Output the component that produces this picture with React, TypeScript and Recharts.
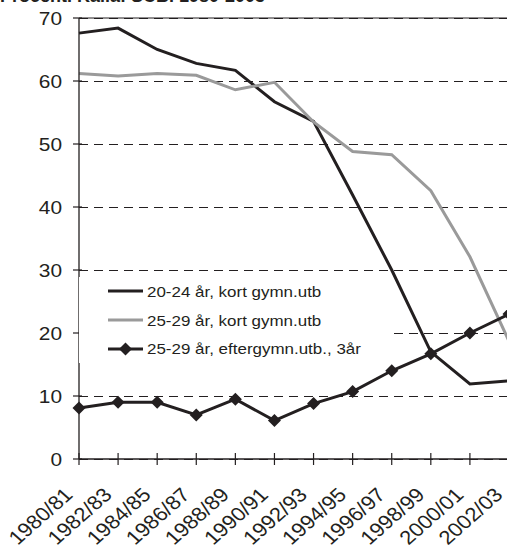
import { CartesianGrid, Legend, Line, LineChart, ReferenceLine, XAxis, YAxis } from "recharts";

const periods = ["1980/81", "1982/83", "1984/85", "1986/87", "1988/89", "1990/91", "1992/93", "1994/95", "1996/97", "1998/99", "2000/01", "2002/03"];
const kort2024 = [67.6, 68.4, 65.0, 62.8, 61.7, 56.7, 53.6, 41.9, 30.0, 17.0, 11.9, 12.4];
const kort2529 = [61.2, 60.8, 61.2, 60.9, 58.6, 59.8, 53.5, 48.8, 48.3, 42.6, 32.1, 18.7];
const efter2529 = [8.1, 9.0, 9.0, 7.0, 9.5, 6.1, 8.8, 10.7, 14.0, 16.7, 20.0, 23.0];
const yTicks = [0, 10, 20, 30, 40, 50, 60, 70];

const seriesOrder = ["kort2024", "kort2529", "efter2529"];
const names: Record<string, string> = {
  kort2024: "20-24 år, kort gymn.utb",
  kort2529: "25-29 år, kort gymn.utb",
  efter2529: "25-29 år, eftergymn.utb., 3år",
};

const data = periods.map((p, i) => ({
  period: p,
  kort2024: kort2024[i],
  kort2529: kort2529[i],
  efter2529: efter2529[i],
}));

const FONT = "'Liberation Sans', Arial, sans-serif";
const INK = "#231f20";
const GREY = "#9a9a9a";
const STRETCH = 1.13;

const YTick = ({ x, y, payload }: any) => (
  <g>
    <line x1={x - 6} x2={x + 3} y1={y} y2={y} stroke={INK} strokeWidth={1.2} />
    <text
      transform={`translate(${x - 17},${y + 6.6}) scale(${STRETCH},1)`}
      textAnchor="end"
      fontSize={18.5}
      fontFamily={FONT}
      fill={INK}
    >
      {payload.value}
    </text>
  </g>
);

const XTick = ({ x, y, payload }: any) => (
  <g>
    <line x1={x} x2={x} y1={y - 6} y2={y + 6} stroke={INK} strokeWidth={1.2} />
    <text
      transform={`translate(${x - 5},${y + 37}) scale(${STRETCH},1) rotate(-45)`}
      textAnchor="end"
      fontSize={19.5}
      fontFamily={FONT}
      fill={INK}
    >
      {payload.value}
    </text>
  </g>
);

const Diamond = ({ cx, cy }: any) => {
  if (cx == null || cy == null) return null;
  return <path d={`M${cx},${cy - 6.5}L${cx + 6.5},${cy}L${cx},${cy + 6.5}L${cx - 6.5},${cy}Z`} fill={INK} />;
};

const renderLegend = ({ payload }: any) => {
  const items = [...(payload || [])].sort(
    (a: any, b: any) => seriesOrder.indexOf(a.dataKey) - seriesOrder.indexOf(b.dataKey)
  );
  return (
    <div style={{ fontFamily: FONT, fontSize: 15, color: INK }}>
      {items.map((entry: any) => (
        <div key={entry.dataKey} style={{ height: 28.7, display: "flex", alignItems: "center" }}>
          <svg width={68} height={16} style={{ flex: "none" }}>
            <line x1={29} x2={64} y1={8} y2={8} stroke={entry.color} strokeWidth={3} />
            {entry.dataKey === "efter2529" && <path d="M46.5,1.5L53,8L46.5,14.5L40,8Z" fill={INK} />}
          </svg>
          <span style={{ display: "inline-block", transform: `scaleX(${STRETCH})`, transformOrigin: "left center", whiteSpace: "nowrap" }}>
            {entry.value}
          </span>
        </div>
      ))}
    </div>
  );
};

export default function App() {
  return (
    <div style={{ position: "fixed", left: 0, top: 0, width: 507, height: 546, overflow: "hidden", background: "#fff" }}>
      <LineChart width={520} height={546} data={data} margin={{ top: 18, right: 11, left: 0, bottom: 0 }}>
        <text x={0} y={2} fontSize={18} fontWeight="bold" fontFamily={FONT} fill={INK}>
          Procent. Källa: SCB. 1980-2003
        </text>
        <CartesianGrid vertical={false} stroke={INK} strokeDasharray="9 6" strokeWidth={1} shapeRendering="crispEdges" />
        <ReferenceLine y={70} stroke={INK} strokeWidth={1.2} />
        <XAxis
          dataKey="period"
          interval={0}
          height={87}
          tickSize={0}
          tickMargin={0}
          tickLine={false}
          tick={<XTick />}
          axisLine={{ stroke: INK, strokeWidth: 1.3 }}
        />
        <YAxis
          domain={[0, 70]}
          ticks={yTicks}
          interval={0}
          width={79}
          tickSize={0}
          tickMargin={0}
          tickLine={false}
          tick={<YTick />}
          axisLine={{ stroke: INK, strokeWidth: 1.3 }}
        />
        <Legend
          layout="vertical"
          align="center"
          verticalAlign="middle"
          content={renderLegend}
          wrapperStyle={{ left: 79, top: 277, width: 310, height: 86, background: "#fff" }}
        />
        <Line type="linear" dataKey="kort2024" name={names.kort2024} stroke={INK} strokeWidth={3} dot={false} isAnimationActive={false} />
        <Line type="linear" dataKey="kort2529" name={names.kort2529} stroke={GREY} strokeWidth={3} dot={false} isAnimationActive={false} />
        <Line type="linear" dataKey="efter2529" name={names.efter2529} stroke={INK} strokeWidth={3} dot={<Diamond />} isAnimationActive={false} />
      </LineChart>
    </div>
  );
}
